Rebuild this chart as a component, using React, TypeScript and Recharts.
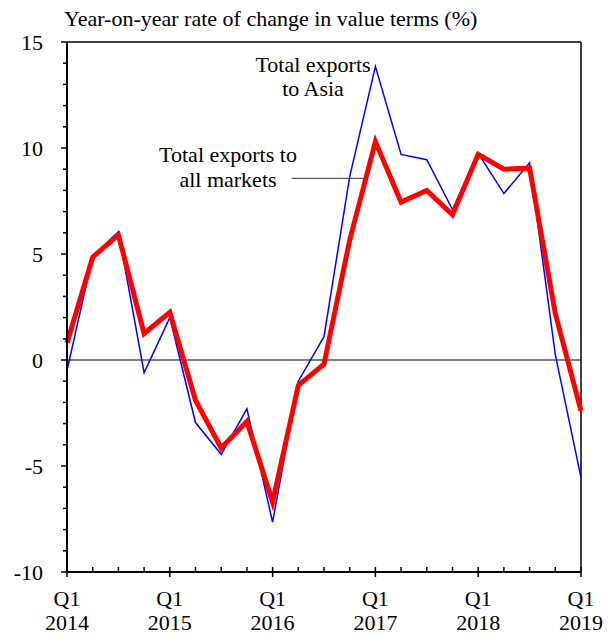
import { LineChart, Line, XAxis, YAxis, ReferenceLine } from 'recharts';

const quarters = [
  'Q1 2014', 'Q2 2014', 'Q3 2014', 'Q4 2014',
  'Q1 2015', 'Q2 2015', 'Q3 2015', 'Q4 2015',
  'Q1 2016', 'Q2 2016', 'Q3 2016', 'Q4 2016',
  'Q1 2017', 'Q2 2017', 'Q3 2017', 'Q4 2017',
  'Q1 2018', 'Q2 2018', 'Q3 2018', 'Q4 2018',
  'Q1 2019',
];

// Total exports to Asia (blue, thin)
const asiaExports = [
  -0.5, 4.9, 6.05, -0.6, 2.0, -2.95, -4.45, -2.3, -7.65, -1.0, 1.1, 8.65,
  13.85, 9.7, 9.45, 7.1, 9.75, 7.85, 9.3, 0.25, -5.55,
];

// Total exports to all markets (red, thick)
const allMarkets = [
  0.8, 4.85, 5.9, 1.25, 2.25, -1.9, -4.15, -2.9, -6.7, -1.2, -0.2, 5.65,
  10.3, 7.45, 8.0, 6.85, 9.7, 9.0, 9.05, 2.2, -2.4,
];

const yTicks = Array.from({ length: 26 }, (_, k) => k - 10);
const yLabels = [-10, -5, 0, 5, 10, 15];

const FONT = '"Liberation Serif", "Times New Roman", serif';
const FS = 22;

const data = quarters.map((q, i) => ({
  i,
  label: q,
  asia: asiaExports[i],
  all: allMarkets[i],
}));
const xTicks = data.map((d) => d.i);

function XTick(props: any) {
  const { x, y, payload } = props;
  const label: string = quarters[payload.value] || '';
  const major = label.startsWith('Q1');
  const [q, yr] = label.split(' ');
  return (
    <g>
      <line x1={x} x2={x} y1={y - 5} y2={major ? y + 5 : y} stroke="#000" strokeWidth={1.5} />
      {major && (
        <>
          <text x={x} y={y + 34} textAnchor="middle" fontSize={FS} fontFamily={FONT} fill="#000">
            {q}
          </text>
          <text x={x} y={y + 58} textAnchor="middle" fontSize={FS} fontFamily={FONT} fill="#000">
            {yr}
          </text>
        </>
      )}
    </g>
  );
}

function YTick(props: any) {
  const { x, y, payload } = props;
  const major = yLabels.includes(payload.value);
  return (
    <g>
      <line x1={x - (major ? 6 : 4)} x2={x} y1={y} y2={y} stroke="#000" strokeWidth={1.5} />
      {major && (
        <text x={x - 24} y={y + 7.5} textAnchor="end" fontSize={FS} fontFamily={FONT} fill="#000">
          {payload.value}
        </text>
      )}
    </g>
  );
}

export default function App() {
  return (
    <div style={{ position: 'absolute', left: 0, top: 0, width: 611, height: 635, background: '#fff' }}>
      <LineChart
        width={611}
        height={635}
        data={data}
        margin={{ top: 42, right: 30, bottom: 0, left: 0 }}
      >
        <XAxis
          dataKey="i"
          type="number"
          domain={[0, 20]}
          ticks={xTicks}
          interval={0}
          height={63}
          tickSize={0}
          tickMargin={0}
          tickLine={false}
          axisLine={{ stroke: '#000', strokeWidth: 2 }}
          tick={<XTick />}
        />
        <YAxis
          type="number"
          domain={[-10, 15]}
          ticks={yTicks}
          interval={0}
          width={67}
          tickSize={0}
          tickMargin={0}
          tickLine={false}
          axisLine={{ stroke: '#000', strokeWidth: 2 }}
          tick={<YTick />}
        />
        <ReferenceLine y={15} stroke="#000" strokeWidth={1.5} />
        <ReferenceLine x={20} stroke="#000" strokeWidth={1.5} />
        <ReferenceLine y={0} stroke="#000" strokeWidth={1} />
        <ReferenceLine
          segment={[{ x: 8.74, y: 8.57 }, { x: 11.56, y: 8.57 }]}
          stroke="#333"
          strokeWidth={1}
        />
        <Line
          type="linear"
          dataKey="asia"
          stroke="#0000ff"
          strokeWidth={1.5}
          dot={false}
          isAnimationActive={false}
        />
        <Line
          type="linear"
          dataKey="all"
          stroke="#ff0000"
          strokeWidth={5}
          dot={false}
          isAnimationActive={false}
        />
      </LineChart>
      <svg
        width={611}
        height={635}
        style={{ position: 'absolute', left: 0, top: 0, pointerEvents: 'none' }}
      >
        <g fontFamily={FONT} fontSize={FS} fill="#000">
          <text x={64} y={26}>Year-on-year rate of change in value terms (%)</text>
          <text x={313} y={72} textAnchor="middle">Total exports</text>
          <text x={313} y={96} textAnchor="middle">to Asia</text>
          <text x={228} y={162} textAnchor="middle">Total exports to</text>
          <text x={228} y={187} textAnchor="middle">all markets</text>
        </g>
      </svg>
    </div>
  );
}
